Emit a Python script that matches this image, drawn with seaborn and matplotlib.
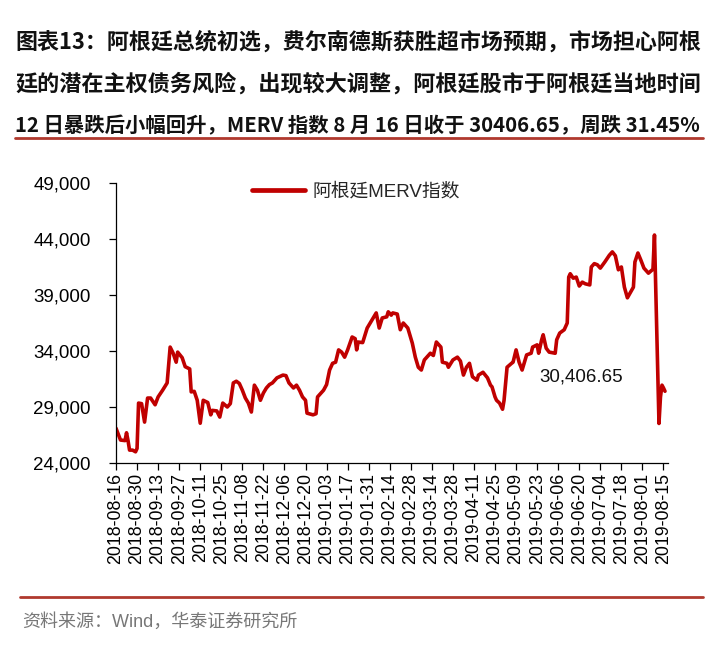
import numpy as np
import pandas as pd
import matplotlib
matplotlib.use("Agg")
import matplotlib.pyplot as plt
import seaborn as sns

# ---------------- data ----------------
start_date = "2018-08-16"
day_offsets = [
    0, 3, 6, 7, 8, 9, 11, 13, 14, 15, 17, 19, 21, 23, 26, 28, 31, 34, 36, 38,
    40, 41, 44, 46, 49, 50, 52, 54, 56, 58, 61, 63, 64, 67, 69, 71, 74, 76, 78, 80,
    82, 84, 86, 88, 90, 92, 94, 96, 98, 100, 102, 104, 107, 111, 113, 115, 118, 120, 122, 124,
    126, 127, 131, 133, 134, 138, 140, 142, 144, 146, 148, 150, 152, 154, 157, 159, 160, 161, 164, 167,
    171, 173, 175, 177, 180, 181, 183, 184, 187, 188, 189, 191, 194, 197, 199, 201, 203, 205, 209, 211,
    213, 216, 217, 220, 221, 224, 227, 229, 231, 233, 235, 237, 240, 241, 244, 247, 249, 250, 252, 253,
    255, 257, 258, 260, 263, 264, 266, 268, 270, 273, 276, 277, 280, 281, 283, 284, 286, 288, 292, 293,
    295, 298, 300, 301, 302, 304, 306, 308, 310, 312, 315, 316, 318, 320, 322, 325, 328, 330, 332, 334,
    336, 338, 340, 344, 345, 347, 349, 351, 354, 357, 358, 361, 362, 363, 364, 365,
]
merv = [
    27100, 26050, 26000, 26700, 26000, 25150, 25150, 25000, 25300, 29350, 29300, 27650, 29800, 29800, 29200, 29900, 30500, 31150, 34350, 33800,
    33000, 33900, 33400, 32600, 32400, 30350, 30400, 29600, 27550, 29600, 29400, 28300, 28700, 28650, 28100, 29350, 29000, 29300, 31150, 31300,
    31100, 30500, 29800, 29350, 28550, 30950, 30500, 29600, 30250, 30700, 31000, 31150, 31600, 31850, 31800, 31150, 30700, 30950, 30500, 29900,
    29600, 28450, 28300, 28400, 29900, 30500, 31000, 32300, 32900, 33000, 34100, 33900, 33450, 34100, 35250, 35100, 34100, 34800, 34750, 36050,
    36950, 37400, 36050, 36950, 37050, 37500, 37200, 37400, 37300, 36600, 35900, 36500, 36050, 34700, 33450, 32550, 32300, 33200, 33800, 33600,
    34800, 34350, 33000, 32900, 32550, 33200, 33450, 33100, 31850, 32550, 32900, 31700, 31400, 31850, 32100, 31600, 30950, 30800, 29900, 29600,
    29350, 28800, 29600, 32550, 32900, 33000, 34100, 33000, 32300, 33650, 33800, 34350, 34550, 33800, 35000, 35450, 34250, 33900, 33800, 35000,
    35600, 35900, 36500, 40600, 40900, 40500, 40600, 39800, 40150, 40000, 39900, 41500, 41800, 41700, 41400, 41950, 42550, 42850, 42500, 41250,
    41500, 39700, 38750, 39700, 41950, 42750, 42100, 41400, 40950, 41300, 44355, 27530, 29900, 30950, 30700, 30406.65,
]
series_name = "阿根廷MERV指数"
last_label = "30,406.65"
y_ticks = [24000, 29000, 34000, 39000, 44000, 49000]
x_tick_labels = [
    "2018-08-16", "2018-08-30", "2018-09-13", "2018-09-27", "2018-10-11", "2018-10-25",
    "2018-11-08", "2018-11-22", "2018-12-06", "2018-12-20", "2019-01-03", "2019-01-17",
    "2019-01-31", "2019-02-14", "2019-02-28", "2019-03-14", "2019-03-28", "2019-04-11",
    "2019-04-25", "2019-05-09", "2019-05-23", "2019-06-06", "2019-06-20", "2019-07-04",
    "2019-07-18", "2019-08-01", "2019-08-15",
]
title_lines = [
    "图表13：阿根廷总统初选，费尔南德斯获胜超市场预期，市场担心阿根",
    "廷的潜在主权债务风险，出现较大调整，阿根廷股市于阿根廷当地时间",
    "12 日暴跌后小幅回升，MERV 指数 8 月 16 日收于 30406.65，周跌 31.45%",
]
source_text = "资料来源：Wind，华泰证券研究所"

# ---------------- figure ----------------
sns.set_style("ticks")
plt.rcParams["font.family"] = ["Liberation Sans", "Noto Sans CJK SC", "DejaVu Sans"]

W, H = 718, 650
fig = plt.figure(figsize=(W / 100, H / 100), dpi=100)

df = pd.DataFrame({
    "date": pd.Timestamp(start_date) + pd.to_timedelta(day_offsets, unit="D"),
    "value": merv,
    "series": series_name,
})

ax = fig.add_axes([116 / W, 1 - 463 / H, (668 - 116) / W, (463 - 183) / H])
sns.lineplot(data=df, x="date", y="value", hue="series", palette=["#C00000"],
             linewidth=2.6, ax=ax)

ax.set_ylim(24000, 49000)
ax.set_yticks(y_ticks)
ax.set_yticklabels([f"{v:,}" for v in y_ticks])
tick_dates = pd.to_datetime(x_tick_labels)
ax.set_xlim(pd.Timestamp(start_date), pd.Timestamp("2019-08-18"))
ax.set_xticks(tick_dates)
ax.set_xticklabels(x_tick_labels, rotation=90)
ax.set_xlabel("")
ax.set_ylabel("")
for s in ["top", "right"]:
    ax.spines[s].set_visible(False)
for s in ["left", "bottom"]:
    ax.spines[s].set_color("#000000")
    ax.spines[s].set_linewidth(0.9)
ax.tick_params(axis="y", direction="out", length=5, width=0.9, pad=13, labelsize=13.5, colors="#000000")
ax.tick_params(axis="x", direction="out", length=5, width=0.9, pad=2, labelsize=12.8, colors="#000000")

leg = ax.legend(loc="upper left", bbox_to_anchor=(0.247, 1.0), frameon=False,
                handlelength=2.8, handletextpad=0.4, borderpad=0, borderaxespad=0,
                prop={"size": 13.5, "family": ["Liberation Sans", "Noto Sans CJK SC"]})
for line in leg.get_lines():
    line.set_linewidth(3.4)

ax.annotate(last_label, xy=(pd.Timestamp("2019-08-16"), merv[-1]), xytext=(581 / W, 1 - 377 / H),
            textcoords="figure fraction", ha="center", va="center", fontsize=13.5, color="#111111")

# title: each line fitted to the width of the rule under it
title_left, title_right = 15, 703
renderer = fig.canvas.get_renderer()
for i, t in enumerate(title_lines):
    fs = 15.9
    txt = fig.text(title_left / W, 1 - (42 + 42 * i) / H, t, ha="left", va="center", fontsize=fs,
                   fontweight="bold", color="#111111",
                   family=["Noto Sans CJK SC", "DejaVu Sans"])
    width = txt.get_window_extent(renderer=renderer).width
    target = title_right - title_left - 2
    if width > target:
        txt.set_fontsize(fs * target / width)
fig.add_artist(plt.Line2D([title_left / W, title_right / W], [1 - 138 / H, 1 - 138 / H],
                          transform=fig.transFigure, color="#B0392E", linewidth=2))

# source
fig.add_artist(plt.Line2D([20 / W, 703 / W], [1 - 597 / H, 1 - 597 / H],
                          transform=fig.transFigure, color="#B0392E", linewidth=2))
fig.text(22 / W, 1 - 622 / H, source_text, ha="left", va="center", fontsize=13,
         color="#777777", family=["Liberation Sans", "Noto Sans CJK SC"])

fig.savefig("out.png", dpi=100, facecolor="white")
